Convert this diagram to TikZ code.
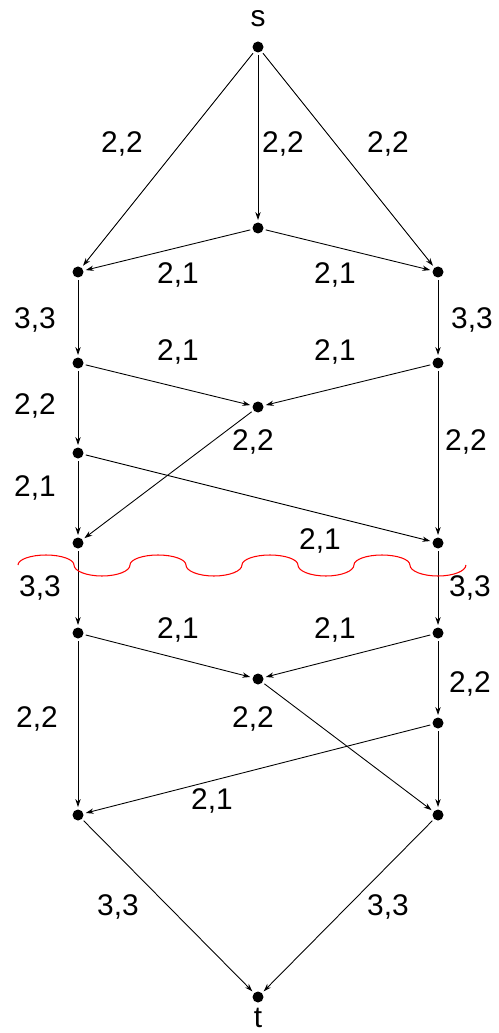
\documentclass[tikz,border=0pt]{standalone}
\usepackage{fontspec}
\setmainfont{Liberation Sans}
\usetikzlibrary{arrows.meta}
\begin{document}
\begin{tikzpicture}[x=0.02cm,y=-0.02cm,
  dot/.style={circle,fill=black,inner sep=0pt,minimum size=0.22cm,outer sep=0.05cm},
  edge/.style={-{Stealth[length=4.5pt,width=3pt]},line width=0.5pt},
  lbl/.style={font=\fontsize{17}{19}\selectfont,inner sep=0pt},
  wavy/.style={red,line width=0.6pt}]
\useasboundingbox (0,0) rectangle (498,1033);
% nodes
\node[dot] (s) at (258,47) {};
\node[lbl] (slabel) at (258,19) {s};
\node[dot] (m1) at (258,228) {};
\node[dot] (L1) at (78,272) {};
\node[dot] (R1) at (438,272) {};
\node[dot] (L2) at (78,363) {};
\node[dot] (R2) at (438,363) {};
\node[dot] (m2) at (258,407) {};
\node[dot] (L3) at (78,453) {};
\node[dot] (L4) at (78,543) {};
\node[dot] (R4) at (438,543) {};
\node[dot] (L5) at (78,633) {};
\node[dot] (R5) at (438,633) {};
\node[dot] (m3) at (258,679) {};
\node[dot] (R6) at (438,723) {};
\node[dot] (L7) at (78,815) {};
\node[dot] (R7) at (438,815) {};
\node[dot] (t) at (258,997) {};
\node[lbl] (tlabel) at (258,1018) {t};
% edges
\draw[edge] (s) -- (m1);
\draw[edge] (s) -- (L1);
\draw[edge] (s) -- (R1);
\draw[edge] (m1) -- (L1);
\draw[edge] (m1) -- (R1);
\draw[edge] (L1) -- (L2);
\draw[edge] (R1) -- (R2);
\draw[edge] (L2) -- (m2);
\draw[edge] (R2) -- (m2);
\draw[edge] (L2) -- (L3);
\draw[edge] (m2) -- (L4);
\draw[edge] (L3) -- (R4);
\draw[edge] (L3) -- (L4);
\draw[edge] (R2) -- (R4);
\draw[edge] (L4) -- (L5);
\draw[edge] (R4) -- (R5);
\draw[edge] (L5) -- (m3);
\draw[edge] (R5) -- (m3);
\draw[edge] (m3) -- (R7);
\draw[edge] (R5) -- (R6);
\draw[edge] (R6) -- (L7);
\draw[edge] (L5) -- (L7);
\draw[edge] (R6) -- (R7);
\draw[edge] (L7) -- (t);
\draw[edge] (R7) -- (t);
% labels
\node[lbl] at (122,144) {2,2};
\node[lbl] at (283,144) {2,2};
\node[lbl] at (388,144) {2,2};
\node[lbl] at (178,275) {2,1};
\node[lbl] at (335,275) {2,1};
\node[lbl] at (35,320) {3,3};
\node[lbl] at (472,320) {3,3};
\node[lbl] at (178,352) {2,1};
\node[lbl] at (335,352) {2,1};
\node[lbl] at (35,406) {2,2};
\node[lbl] at (253,442) {2,2};
\node[lbl] at (466,442) {2,2};
\node[lbl] at (35,488) {2,1};
\node[lbl] at (320,541) {2,1};
\node[lbl] at (40,588) {3,3};
\node[lbl] at (470,588) {3,3};
\node[lbl] at (178,630) {2,1};
\node[lbl] at (335,630) {2,1};
\node[lbl] at (470,684) {2,2};
\node[lbl] at (37,719) {2,2};
\node[lbl] at (253,719) {2,2};
\node[lbl] at (212,801) {2,1};
\node[lbl] at (118,907) {3,3};
\node[lbl] at (388,907) {3,3};
% red wavy cut
\draw[wavy] (18,565)
  arc[start angle=180,end angle=0,x radius=0.56cm,y radius=0.2cm]
  arc[start angle=180,end angle=360,x radius=0.56cm,y radius=0.22cm]
  arc[start angle=180,end angle=0,x radius=0.56cm,y radius=0.2cm]
  arc[start angle=180,end angle=360,x radius=0.56cm,y radius=0.22cm]
  arc[start angle=180,end angle=0,x radius=0.56cm,y radius=0.2cm]
  arc[start angle=180,end angle=360,x radius=0.56cm,y radius=0.22cm]
  arc[start angle=180,end angle=0,x radius=0.56cm,y radius=0.2cm]
  arc[start angle=180,end angle=360,x radius=0.56cm,y radius=0.22cm];
\end{tikzpicture}
\end{document}
